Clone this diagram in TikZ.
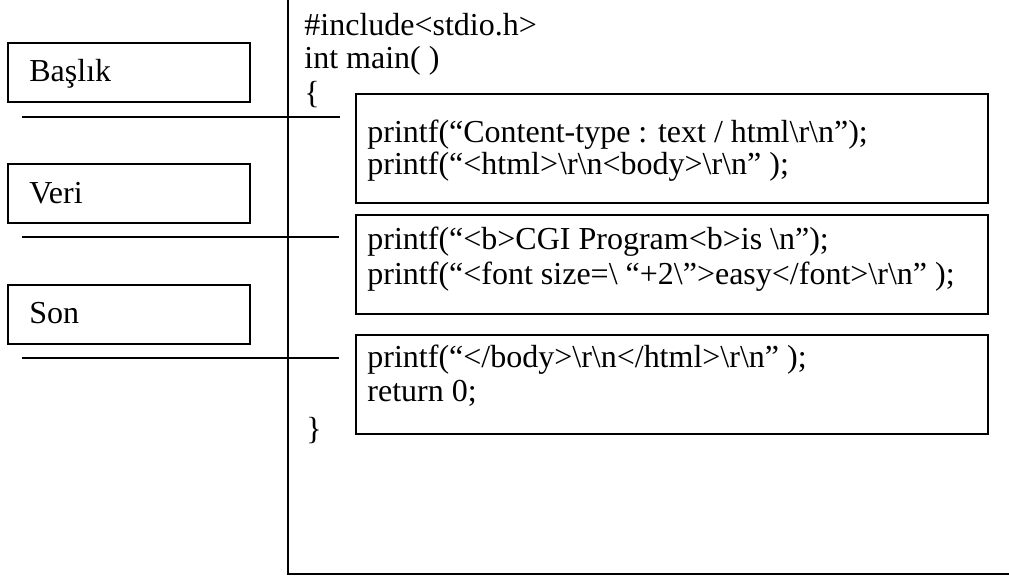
\documentclass[tikz,border=0pt]{standalone}
\usepackage{fontspec}
\setmainfont{Liberation Serif}
\newcommand{\bsl}{\textbackslash}
% one drawing unit is half a point
\tikzset{
  frame/.style={line width=1pt},
  partbox/.style={draw, line width=1pt, minimum width=121pt, minimum height=29.5pt, anchor=north west, inner sep=0},
  codebox/.style={draw, line width=1pt, minimum width=316pt, anchor=north west, inner sep=0},
  divider/.style={line width=1pt},
  label/.style={anchor=base west, inner sep=0, font=\fontsize{16}{18}\selectfont},
  code/.style={anchor=base west, inner sep=0, font=\fontsize{16}{18}\selectfont},
}
\begin{document}
\begin{tikzpicture}[x=0.5pt, y=-0.5pt]
  \useasboundingbox (0,0) rectangle (1009,576);

  % program frame
  \coordinate (ftop) at (288,0);
  \coordinate (fcorner) at (288,574);
  \coordinate (fright) at (1009,574);
  \draw[frame] (ftop) -- (fcorner) -- (fright);

  % part boxes on the left
  \node[partbox] (baslik) at (7,42)  {};
  \node[partbox] (veri)   at (7,163) {};
  \node[partbox] (son)    at (7,284) {};
  \node[label] (tbaslik) at (29,82)  {Başlık};
  \node[label] (tveri)   at (29,204) {Veri};
  \node[label] (tson)    at (29,324) {Son};

  % code blocks
  \node[codebox, minimum height=54.5pt] (blk1) at (355,93)  {};
  \node[codebox, minimum height=49.5pt] (blk2) at (355,214) {};
  \node[codebox, minimum height=49.5pt] (blk3) at (355,334) {};

  % dividers between the parts
  \coordinate (d1) at (22,117);
  \coordinate (d2) at (22,237);
  \coordinate (d3) at (22,358);
  \coordinate (e1) at (340,117);
  \coordinate (e2) at (339,237);
  \coordinate (e3) at (339,358);
  \draw[divider] (d1) -- (e1);
  \draw[divider] (d2) -- (e2);
  \draw[divider] (d3) -- (e3);

  % program text
  \node[code] (inc)  at (304,36)  {\#include<stdio.h>};
  \node[code] (mn)   at (304,69)  {int main( )};
  \node[code] (obr)  at (304,104) {\{};
  \node[code] (cbr)  at (306,440) {\}};

  \node[code] (l11) at (367,143) {printf(“Content-type : text / html\bsl r\bsl n”);};
  \node[code] (l12) at (367,175) {printf(“<html>\bsl r\bsl n<body>\bsl r\bsl n” );};
  \node[code] (l21) at (367,250) {printf(“<b>CGI Program<b>is \bsl n”);};
  \node[code] (l22) at (367,285) {printf(“<font size=\bsl{} “+2\bsl ”>easy</font>\bsl r\bsl n” );};
  \node[code] (l31) at (367,368) {printf(“</body>\bsl r\bsl n</html>\bsl r\bsl n” );};
  \node[code] (l32) at (367,402) {return 0;};
\end{tikzpicture}
\end{document}
